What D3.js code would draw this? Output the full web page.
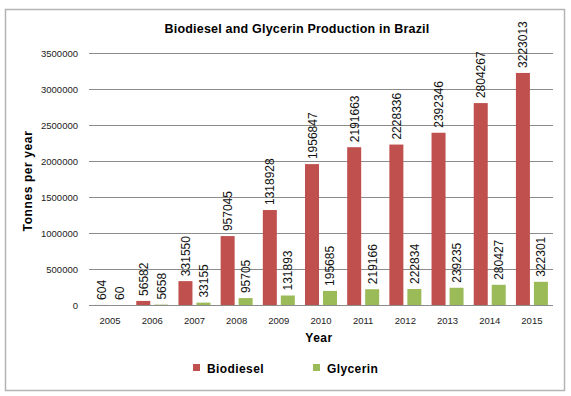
<!DOCTYPE html>
<html>
<head>
<meta charset="utf-8">
<script src="https://cdn.jsdelivr.net/npm/d3@7"></script>
<style>
  body { margin: 0; background: #fff; }
  svg { display: block; font-family: "Liberation Sans", Arial, sans-serif; }
</style>
</head>
<body>
<svg width="571" height="396"></svg>
<script>
const years = ['2005', '2006', '2007', '2008', '2009', '2010', '2011', '2012', '2013', '2014', '2015'];
const biodiesel = [604, 56582, 331550, 957045, 1318928, 1956847, 2191663, 2228336, 2392346, 2804267, 3223013];
const glycerin = [60, 5658, 33155, 95705, 131893, 195685, 219166, 222834, 239235, 280427, 322301];
const seriesNames = ['Biodiesel', 'Glycerin'];
const yTicks = [0, 500000, 1000000, 1500000, 2000000, 2500000, 3000000, 3500000];

const colors = { Biodiesel: '#C0504D', Glycerin: '#9BBB59' };
const plot = { left: 89, right: 553, top: 53, bottom: 305 };

const svg = d3.select('svg');

// chart border
svg.append('rect')
  .attr('x', 5.5).attr('y', 9.5)
  .attr('width', 559).attr('height', 381)
  .attr('fill', '#fff')
  .attr('stroke', '#b4b4b4')
  .attr('stroke-width', 1.5);

const x = d3.scaleBand()
  .domain(years)
  .range([plot.left, plot.right]);

const xInner = d3.scaleBand()
  .domain(seriesNames)
  .range([0, x.bandwidth()])
  .paddingInner(0.222)
  .paddingOuter(0.283);

const y = d3.scaleLinear()
  .domain([0, 3500000])
  .range([plot.bottom, plot.top]);

// gridlines
svg.append('g')
  .selectAll('line')
  .data(yTicks)
  .join('line')
  .attr('x1', plot.left).attr('x2', plot.right)
  .attr('y1', d => Math.round(y(d)) + 0.5)
  .attr('y2', d => Math.round(y(d)) + 0.5)
  .attr('stroke', '#8c8c8c')
  .attr('stroke-width', 1);

// y tick labels
svg.append('g')
  .selectAll('text')
  .data(yTicks)
  .join('text')
  .attr('x', 78)
  .attr('y', d => y(d) + 3.5)
  .attr('text-anchor', 'end')
  .attr('font-size', 9.5)
  .attr('fill', '#222')
  .text(d => d);

// x tick labels
svg.append('g')
  .selectAll('text')
  .data(years)
  .join('text')
  .attr('x', d => x(d) + x.bandwidth() / 2)
  .attr('y', 324)
  .attr('text-anchor', 'middle')
  .attr('font-size', 9.5)
  .attr('fill', '#222')
  .text(d => d);

const rows = years.map((yr, i) => ({ year: yr, Biodiesel: biodiesel[i], Glycerin: glycerin[i] }));

const groups = svg.append('g')
  .selectAll('g')
  .data(rows)
  .join('g')
  .attr('transform', d => `translate(${x(d.year)},0)`);

const cells = groups.selectAll('g')
  .data(d => seriesNames.map(s => ({ key: s, value: d[s] })))
  .join('g');

cells.append('rect')
  .attr('x', d => xInner(d.key))
  .attr('y', d => y(d.value))
  .attr('width', xInner.bandwidth())
  .attr('height', d => y(0) - y(d.value))
  .attr('fill', d => colors[d.key]);

cells.append('text')
  .attr('transform', d => `translate(${xInner(d.key) + xInner.bandwidth() / 2 + 4.5},${y(d.value) - 5}) rotate(-90)`)
  .attr('font-size', 12)
  .attr('fill', '#111')
  .text(d => d.value);

// title
svg.append('text')
  .attr('x', 297).attr('y', 33)
  .attr('text-anchor', 'middle')
  .attr('font-size', 12.5)
  .attr('font-weight', 'bold')
  .attr('letter-spacing', 0.2)
  .text('Biodiesel and Glycerin Production in Brazil');

// axis titles
svg.append('text')
  .attr('transform', 'translate(32,181) rotate(-90)')
  .attr('text-anchor', 'middle')
  .attr('font-size', 12)
  .attr('font-weight', 'bold')
  .attr('letter-spacing', 0.6)
  .text('Tonnes per year');

svg.append('text')
  .attr('x', 319).attr('y', 342)
  .attr('text-anchor', 'middle')
  .attr('font-size', 12)
  .attr('font-weight', 'bold')
  .attr('letter-spacing', 0.5)
  .text('Year');

// legend
const legendX = { Biodiesel: 193, Glycerin: 313 };
const legend = svg.append('g')
  .selectAll('g')
  .data(seriesNames)
  .join('g')
  .attr('transform', d => `translate(${legendX[d]},364)`);

legend.append('rect')
  .attr('width', 7).attr('height', 7)
  .attr('fill', d => colors[d]);

legend.append('text')
  .attr('x', 14).attr('y', 9)
  .attr('font-size', 12)
  .attr('font-weight', 'bold')
  .attr('letter-spacing', 0.4)
  .text(d => d);
</script>
</body>
</html>
